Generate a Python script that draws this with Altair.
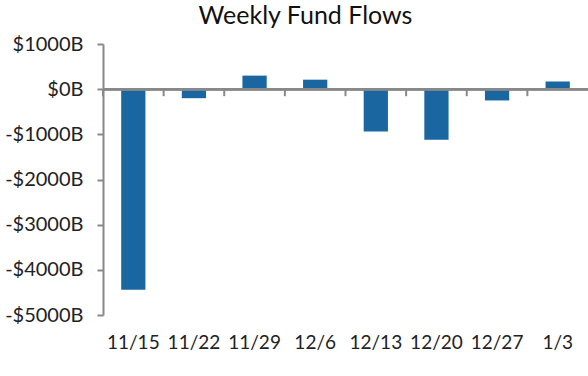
import altair as alt
import pandas as pd

weeks = ["11/15", "11/22", "11/29", "12/6", "12/13", "12/20", "12/27", "1/3"]
flows = [-4440, -200, 300, 210, -940, -1120, -250, 170]

df = pd.DataFrame({"week": weeks, "flow": flows})

FONT = "Lato"
GRAY = "#888888"
W, H = 485, 271

xscale = alt.Scale(domain=weeks, paddingInner=0, paddingOuter=0)
yscale = alt.Scale(domain=[-5000, 1000], nice=False, zero=False)

bars = alt.Chart(df).mark_bar(color="#1a66a0", width=alt.RelativeBandSize(0.4)).encode(
    x=alt.X("week:N", sort=weeks, scale=xscale,
            axis=alt.Axis(title=None, labelAngle=0, domain=False, ticks=False,
                          labelPadding=18, labelFontSize=19, labelFont=FONT,
                          labelColor="#222222")),
    y=alt.Y("flow:Q", scale=yscale,
            axis=alt.Axis(title=None, values=[1000, 0, -1000, -2000, -3000, -4000, -5000],
                          labelExpr="(datum.value < 0 ? '-' : '') + '$' + abs(datum.value) + 'B'",
                          grid=False, domainColor=GRAY, domainWidth=2,
                          tickColor=GRAY, tickWidth=2, tickSize=6, labelPadding=14,
                          labelFontSize=20, labelFont=FONT, labelColor="#222222")),
)

zero_line = alt.Chart(df).mark_rule(color=GRAY, strokeWidth=2).encode(
    y=alt.datum(0), x=alt.value(0), x2=alt.value(W)
)

zero_ticks = alt.Chart(df).mark_rule(color=GRAY, strokeWidth=2, y2Offset=7).encode(
    x=alt.X("week:N", sort=weeks, scale=xscale, bandPosition=0),
    y=alt.datum(0), y2=alt.datum(0),
)

chart = alt.layer(bars, zero_line, zero_ticks).properties(
    width=W, height=H,
    autosize="none",
    padding={"left": 103, "top": 44, "right": 0, "bottom": 61},
    title=alt.TitleParams("Weekly Fund Flows", font=FONT, fontSize=25, fontWeight="normal",
                          color="#111111", anchor="middle", dx=-40, offset=5),
).configure_view(stroke=None)

chart.save("out.html", embed_options={"renderer": "svg", "actions": False})
